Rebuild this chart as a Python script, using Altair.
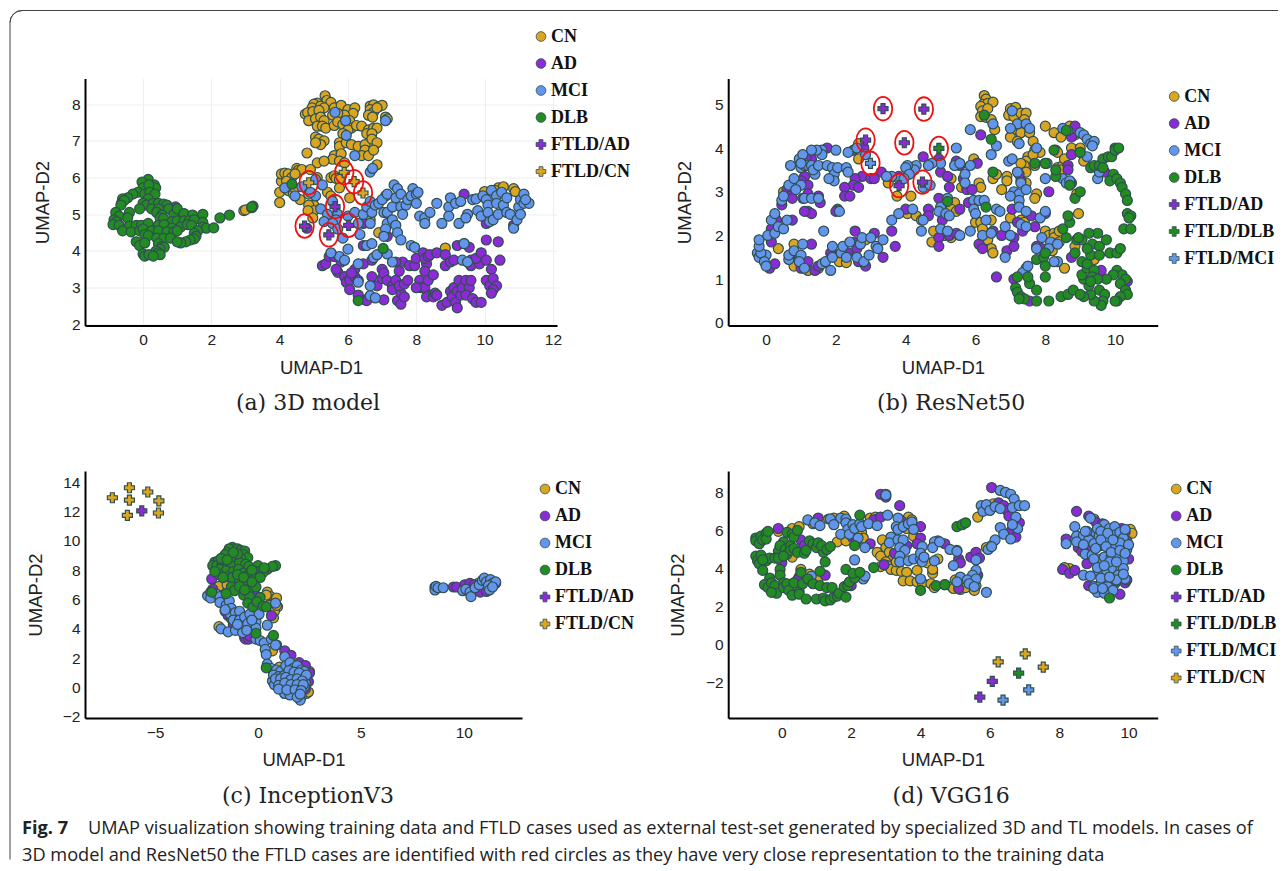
import altair as alt
import pandas as pd

GROUPS = ["CN", "AD", "MCI", "DLB", "FTLD/AD", "FTLD/DLB", "FTLD/MCI", "FTLD/CN"]
COLORS = {"CN": "#DAA520", "AD": "#8A2BD6", "MCI": "#6495ED", "DLB": "#228B22",
          "FTLD/AD": "#8A2BD6", "FTLD/DLB": "#228B22", "FTLD/MCI": "#6495ED", "FTLD/CN": "#DAA520"}
SHAPES = {"CN": "circle", "AD": "circle", "MCI": "circle", "DLB": "circle",
          "FTLD/AD": "cross", "FTLD/DLB": "cross", "FTLD/MCI": "cross", "FTLD/CN": "cross"}

# ---------- panel a: 3D model
a_cn = [(5.33,8.23),(5.38,8.1),(5.5,8.05),(5.1,8.03),(5.0,8.0),(4.95,7.9),(5.2,7.95),(5.3,7.9),(5.6,7.9),(5.8,7.97),(6.0,7.85),(6.2,7.9),(6.15,7.75),(5.9,7.7),(5.7,7.75),(5.55,7.7),(4.75,7.73),(4.82,7.77),(4.97,7.8),(5.15,7.83),(4.85,7.55),(5.05,7.6),(5.2,7.65),(5.3,7.55),(5.1,7.4),(5.25,7.4),(5.35,7.35),(5.6,7.42),(5.7,7.52),(5.85,7.45),(6.05,7.55),(6.1,7.35),(6.0,7.3),(6.25,7.42),(6.4,7.4),(5.85,7.2),(6.65,7.95),(6.75,7.98),(6.9,7.93),(7.0,7.97),(6.65,7.85),(6.75,7.78),(6.85,7.9),(6.6,7.7),(6.72,7.65),(7.1,7.65),(7.15,7.6),(6.6,7.3),(6.75,7.35),(6.85,7.35),(6.55,7.2),(6.7,7.2),(5.05,7.1),(5.15,7.05),(5.3,7.0),(5.2,6.9),(5.05,6.95),(5.75,6.95),(5.75,6.85),(5.95,6.95),(6.1,6.9),(6.3,6.85),(6.5,6.9),(6.7,7.05),(6.85,6.95),(6.5,6.75),(6.4,6.6),(6.6,6.6),(6.75,6.75),(5.6,6.6),(5.8,6.65),(5.55,6.5),(5.75,6.45),(4.8,6.67),(5.1,6.4),(5.3,6.45),(5.9,6.4),(6.85,6.35),(4.0,5.32),(4.0,5.6),(4.05,5.9),(4.05,6.1),(4.15,6.12),(4.25,6.1),(4.35,6.0),(4.2,5.9),(4.25,5.65),(4.4,5.55),(4.45,5.7),(4.5,6.25),(4.55,6.2),(4.65,6.22),(4.45,6.1),(4.6,5.4),(4.85,5.55),(4.9,6.22),(5.1,6.0),(5.5,6.0),(5.6,6.05),(5.65,5.98),(5.75,5.95),(5.75,5.72),(5.4,5.6),(5.5,5.5),(6.05,5.45),(2.95,5.1),(3.0,5.12),(3.18,5.18),(5.0,5.25),(4.85,5.25),(5.0,5.1),(4.83,5.1),(4.97,4.9),(6.65,4.85),(6.9,4.5),(7.1,5.5),(10.0,5.62),(10.4,5.72),(10.55,5.75),(10.85,5.7),(10.9,5.62),(10.3,5.65),(8.85,4.08)]
a_ad = [(0.95,5.2),(5.25,3.6),(5.35,3.65),(5.7,3.42),(5.45,3.85),(5.6,3.85),(5.8,3.7),(5.9,3.3),(5.95,3.15),(6.05,3.2),(6.2,3.5),(6.2,3.3),(6.3,3.2),(6.05,2.95),(6.3,2.8),(6.5,2.67),(6.55,2.65),(6.45,3.65),(6.7,3.75),(6.7,3.3),(6.85,3.05),(7.0,3.5),(7.0,3.25),(7.05,3.4),(7.15,3.2),(7.3,3.05),(7.05,2.67),(7.3,2.95),(7.45,2.65),(7.55,2.55),(7.55,2.85),(7.65,2.75),(7.4,3.2),(7.5,3.05),(7.65,3.1),(7.75,3.2),(7.5,3.45),(7.6,3.7),(7.4,3.7),(7.8,3.6),(7.95,3.6),(8.0,3.8),(8.2,3.95),(8.3,3.65),(8.25,3.8),(8.35,3.85),(8.4,3.9),(8.25,3.45),(8.1,3.2),(8.15,3.0),(8.25,3.0),(8.35,3.2),(8.5,3.35),(8.4,2.8),(8.3,2.75),(8.5,2.75),(8.55,2.85),(8.6,3.95),(8.6,2.8),(8.75,2.52),(8.9,2.6),(8.85,3.6),(8.85,3.9),(9.0,3.7),(9.1,3.75),(9.0,2.9),(9.05,2.75),(9.1,3.0),(9.15,2.6),(9.2,2.9),(9.2,2.45),(9.3,2.8),(9.25,3.2),(9.35,3.0),(9.45,3.2),(9.55,3.0),(9.6,3.2),(9.45,2.8),(9.65,2.7),(9.75,2.6),(9.9,2.6),(9.2,4.15),(9.55,4.1),(9.4,4.2),(9.6,3.75),(9.6,3.6),(9.85,3.65),(9.75,3.8),(9.9,3.95),(10.05,3.75),(10.05,3.2),(10.15,3.05),(10.2,3.5),(10.25,3.25),(10.35,3.05),(10.25,2.95),(10.2,2.85),(10.45,3.75),(10.05,4.3),(10.4,4.25),(9.4,5.55),(10.05,4.75),(10.85,4.7),(6.45,4.15),(6.45,4.75),(7.15,4.4),(4.8,4.62),(5.65,3.5),(8.0,3.0),(6.1,3.4)]
a_mci = [(5.62,7.78),(5.93,7.55),(5.95,7.15),(6.2,6.6),(7.1,7.55),(6.65,6.15),(6.72,6.25),(4.15,5.72),(4.45,5.5),(4.65,5.75),(5.05,5.95),(5.25,5.8),(5.2,5.15),(5.4,5.0),(5.55,5.35),(5.7,5.0),(5.65,4.85),(5.3,4.8),(5.55,4.75),(5.7,4.6),(5.85,4.35),(6.0,4.95),(6.2,5.05),(6.3,4.75),(6.35,4.45),(6.45,5.0),(6.55,5.2),(6.65,5.35),(6.7,5.05),(6.8,5.25),(6.9,5.3),(6.65,4.75),(7.05,5.05),(7.15,5.05),(7.0,5.4),(7.15,5.55),(7.15,4.75),(7.1,4.6),(7.3,4.85),(7.35,5.8),(7.3,5.2),(7.4,5.45),(7.45,5.7),(7.55,5.55),(7.55,5.2),(7.6,5.0),(7.7,5.25),(7.75,5.4),(7.9,5.7),(7.85,5.5),(8.0,5.55),(8.0,5.3),(8.05,5.6),(7.4,4.7),(7.45,4.5),(7.55,4.3),(7.85,4.15),(7.95,4.1),(8.1,4.95),(8.25,4.9),(8.25,4.75),(8.4,5.05),(8.6,5.3),(8.75,4.75),(8.95,5.2),(8.95,4.95),(9.0,5.45),(9.15,5.3),(9.25,4.75),(9.3,5.35),(9.5,5.0),(9.45,4.9),(9.65,5.4),(9.75,5.42),(9.8,5.1),(9.9,4.95),(9.95,5.5),(10.05,5.4),(10.1,5.25),(10.1,5.05),(10.15,4.8),(10.25,4.85),(10.2,5.65),(10.35,5.5),(10.35,5.3),(10.4,5.0),(10.5,5.6),(10.55,5.25),(10.65,5.45),(10.65,5.05),(10.75,5.0),(10.85,4.62),(10.95,4.85),(11.0,5.2),(11.05,5.4),(11.05,5.0),(11.15,5.55),(11.15,5.3),(11.3,5.3),(11.2,5.4),(6.0,4.05),(5.75,3.85),(5.9,3.75),(6.3,3.65),(6.55,4.15),(6.7,4.2),(6.75,3.82),(6.85,3.9),(7.15,3.92),(7.3,3.7),(9.35,3.75),(9.5,3.7),(9.4,4.2),(6.3,3.15),(6.65,3.05),(6.65,2.78),(6.8,2.72),(5.05,5.5),(4.9,5.6),(5.5,3.95),(7.05,4.4)]
a_dlb = [(0.15,5.95),(-0.03,5.88),(0.0,5.72),(0.33,5.8),(0.37,5.72),(0.17,5.8),(-0.15,5.6),(-0.3,5.55),(0.05,5.55),(0.2,5.6),(0.35,5.55),(-0.45,5.45),(-0.6,5.42),(-0.63,5.3),(-0.55,5.38),(0.15,5.42),(0.0,5.3),(0.1,5.25),(0.3,5.3),(0.45,5.3),(0.6,5.28),(0.7,5.25),(-0.65,5.25),(-0.1,5.15),(0.25,5.15),(0.45,5.15),(0.75,5.15),(-0.8,5.05),(-0.7,4.95),(-0.4,5.05),(0.4,5.05),(0.55,4.98),(0.9,5.0),(1.0,5.15),(1.2,5.02),(1.45,4.98),(1.75,5.0),(-0.85,4.85),(-0.78,4.8),(-0.45,4.9),(0.5,4.9),(0.6,4.88),(0.85,4.8),(1.0,4.82),(1.2,4.82),(1.35,4.82),(1.5,4.85),(1.75,4.78),(-0.88,4.72),(-0.7,4.7),(-0.4,4.68),(-0.2,4.7),(-0.05,4.7),(0.15,4.75),(0.45,4.7),(0.62,4.72),(0.85,4.62),(1.1,4.65),(1.3,4.72),(1.42,4.7),(1.75,4.65),(1.85,4.62),(2.07,4.63),(-0.6,4.55),(-0.35,4.52),(-0.1,4.55),(0.0,4.6),(0.25,4.55),(0.45,4.55),(0.7,4.52),(0.9,4.52),(1.0,4.55),(1.6,4.55),(1.5,4.48),(-0.2,4.25),(0.05,4.45),(0.15,4.42),(0.4,4.35),(0.6,4.35),(0.8,4.35),(1.55,4.4),(1.5,4.33),(1.38,4.3),(1.25,4.25),(1.1,4.22),(1.0,4.25),(-0.1,4.15),(0.05,4.22),(0.45,4.2),(0.55,4.12),(0.62,4.1),(0.5,4.05),(0.38,4.0),(0.45,3.95),(0.5,3.9),(0.0,3.92),(0.05,3.86),(0.17,3.9),(0.3,3.86),(2.25,4.9),(2.53,4.98),(3.22,5.22),(3.18,5.2),(4.36,5.82),(7.03,4.07),(6.3,2.65)]
a_ftld_ad = [(4.73,4.68),(5.44,4.44),(5.62,5.21),(6.02,4.70)]
a_ftld_cn = [(4.85,5.86),(5.89,6.14),(6.18,5.89),(6.44,5.58)]

# ---------- panel b: ResNet50
b_cn = [(6.25,5.2),(6.3,5.12),(6.22,5.0),(6.35,5.02),(6.5,5.05),(6.15,4.95),(6.2,4.85),(6.35,4.9),(6.15,4.72),(6.3,4.7),(6.45,4.65),(6.55,4.42),(7.0,4.9),(7.15,4.93),(6.95,4.75),(7.1,4.72),(7.3,4.8),(7.45,4.8),(7.4,4.65),(7.05,4.4),(7.0,4.25),(7.3,4.35),(7.2,4.15),(7.55,4.35),(8.0,4.5),(8.25,4.35),(8.45,4.25),(8.7,4.5),(8.85,4.3),(8.75,4.0),(9.0,4.0),(8.3,3.95),(8.35,3.9),(7.65,4.15),(7.7,3.95),(7.85,3.9),(7.5,3.8),(7.45,3.7),(7.4,3.6),(7.3,3.65),(7.7,3.6),(7.65,3.85),(8.0,3.65),(8.35,3.55),(8.5,3.6),(8.55,3.75),(8.45,3.5),(7.45,3.45),(6.9,3.35),(7.45,3.2),(6.9,3.25),(6.75,3.05),(6.5,3.3),(6.6,3.4),(5.95,3.75),(6.1,3.2),(6.15,3.1),(5.3,3.3),(5.6,3.1),(7.75,2.95),(7.7,2.85),(8.9,2.95),(9.1,3.7),(7.0,2.4),(7.3,2.35),(7.4,2.3),(5.4,2.75),(5.3,2.6),(5.45,2.55),(6.0,2.3),(6.15,2.3),(6.45,2.35),(5.0,2.1),(5.1,2.0),(5.05,2.05),(6.2,2.15),(6.2,1.85),(6.35,1.9),(6.45,1.7),(6.5,1.6),(8.0,2.1),(8.1,2.0),(8.25,2.05),(8.25,1.95),(8.4,2.1),(8.4,1.85),(8.2,1.65),(8.85,1.75),(8.95,2.5),(8.55,1.25),(9.4,1.45),(4.75,1.85),(4.8,2.1),(0.35,1.7),(0.8,1.8),(0.8,1.3),(1.2,1.2),(1.5,1.25),(2.05,1.55),(2.2,1.5),(2.1,1.4),(2.3,1.38),(2.65,4.1),(2.65,3.75),(0.5,3.0),(4.05,2.5),(3.75,2.9),(4.15,2.9),(4.3,2.45),(4.45,2.35),(3.5,3.2),(2.85,1.9),(5.3,1.95)]
b_ad = [(3.3,3.45),(3.8,3.35),(2.75,3.35),(3.0,3.3),(3.1,3.3),(2.55,3.3),(2.5,3.15),(2.65,3.1),(2.25,3.1),(2.25,2.9),(2.4,2.9),(2.05,2.6),(2.0,2.55),(2.8,4.0),(2.5,3.95),(1.75,4.0),(1.3,3.75),(1.15,3.8),(0.6,3.05),(0.7,2.9),(0.45,2.7),(1.1,3.35),(1.0,3.25),(1.2,3.15),(1.2,2.95),(1.5,2.9),(1.55,2.75),(1.2,2.55),(1.3,2.5),(1.1,2.55),(1.05,2.85),(0.75,2.85),(0.75,2.35),(0.3,2.35),(0.15,2.15),(0.15,1.85),(0.1,1.25),(0.25,1.35),(1.3,1.8),(0.95,1.5),(1.2,1.4),(1.4,1.2),(1.5,1.3),(1.0,1.25),(1.85,1.6),(2.55,1.85),(2.35,1.6),(2.6,1.7),(2.65,1.4),(2.85,1.3),(2.55,2.1),(3.1,2.05),(3.6,2.1),(3.7,1.75),(3.35,1.5),(4.0,2.6),(4.65,2.6),(4.65,2.45),(4.5,3.8),(4.95,3.75),(5.0,3.45),(5.2,3.35),(5.25,3.1),(4.95,2.85),(5.45,3.7),(5.55,3.6),(5.65,3.3),(5.75,3.05),(5.9,3.05),(6.05,3.65),(6.15,4.3),(5.8,2.75),(5.55,2.6),(5.05,2.35),(4.95,1.95),(4.95,1.75),(5.25,2.0),(5.45,2.05),(6.1,1.8),(6.2,1.7),(6.5,2.1),(6.75,2.0),(6.9,1.65),(7.1,1.95),(7.1,1.75),(7.05,2.6),(7.2,2.3),(7.35,2.1),(7.6,2.45),(7.7,2.2),(7.75,1.75),(7.9,1.7),(8.0,2.5),(7.3,3.25),(7.25,3.4),(8.1,3.0),(8.75,3.85),(8.65,3.6),(8.65,3.5),(8.85,4.5),(8.75,4.25),(9.55,3.6),(9.7,3.45),(10.35,0.95),(9.6,1.2),(8.75,1.5),(6.6,1.05),(7.1,1.0),(7.55,0.5),(8.75,3.2)]
b_mci = [(5.85,4.42),(5.45,4.0),(7.05,4.85),(7.2,4.55),(7.0,4.45),(7.25,4.1),(7.45,4.55),(7.55,4.45),(6.5,4.55),(6.6,4.05),(6.45,3.85),(6.95,3.7),(7.05,3.75),(7.75,4.0),(8.05,3.65),(8.5,4.45),(8.65,4.4),(9.0,4.35),(9.1,4.3),(9.2,4.2),(9.3,4.1),(9.4,4.15),(9.35,4.05),(9.0,3.9),(9.2,3.8),(9.5,3.3),(9.55,3.45),(8.0,3.3),(8.5,3.3),(8.6,3.2),(8.7,3.25),(7.2,3.45),(7.3,3.2),(7.1,3.0),(7.25,2.95),(7.45,3.05),(7.0,2.9),(7.25,2.8),(7.25,2.65),(5.7,3.4),(5.85,3.6),(5.7,3.2),(5.4,3.6),(5.55,3.65),(5.0,3.65),(4.75,3.65),(4.65,3.6),(4.3,3.6),(4.25,3.5),(4.05,3.6),(4.0,3.55),(4.1,3.4),(3.8,3.3),(3.6,3.35),(3.45,3.35),(3.95,3.3),(4.5,3.1),(4.7,3.15),(5.2,2.85),(5.0,2.65),(4.95,2.55),(5.15,2.5),(5.25,2.45),(5.95,2.8),(6.1,2.8),(6.25,2.8),(5.95,2.6),(6.0,2.5),(6.3,2.35),(6.6,2.6),(6.7,2.55),(5.85,2.1),(6.2,2.0),(6.45,2.05),(6.85,2.2),(7.0,2.0),(7.3,2.25),(7.45,2.2),(7.45,2.55),(7.85,2.4),(8.0,2.55),(7.9,1.95),(8.15,1.85),(8.1,1.7),(8.35,1.8),(8.35,1.4),(7.45,1.25),(7.35,1.15),(7.5,1.3),(8.25,1.4),(7.75,1.7),(6.85,1.5),(0.0,1.55),(-0.25,1.6),(-0.2,1.5),(-0.15,1.6),(-0.2,1.75),(-0.2,1.9),(-0.05,1.4),(0.0,1.3),(0.05,2.0),(0.25,2.05),(0.15,2.35),(0.25,2.5),(0.35,2.2),(0.5,2.15),(0.6,2.35),(0.45,2.8),(0.5,2.9),(0.65,3.15),(0.8,3.3),(0.7,3.6),(0.95,3.75),(1.0,3.55),(1.0,3.15),(0.85,3.05),(1.1,2.85),(1.3,2.85),(1.4,3.4),(1.1,3.6),(1.2,3.6),(1.3,3.6),(1.35,3.5),(1.5,3.6),(1.75,3.6),(1.9,3.55),(1.95,3.4),(1.95,3.25),(1.8,3.3),(2.05,3.55),(2.3,3.55),(2.35,3.45),(2.35,3.9),(2.0,3.95),(1.6,3.95),(1.6,3.85),(1.45,3.95),(1.3,3.95),(1.05,3.85),(1.0,3.65),(2.6,4.0),(2.85,3.85),(0.65,1.45),(0.65,1.55),(0.8,1.65),(1.0,1.55),(0.95,1.4),(1.1,1.25),(1.05,1.8),(1.6,1.35),(1.7,1.4),(1.85,1.2),(1.9,1.5),(1.9,1.75),(2.15,1.6),(2.2,1.75),(2.3,1.5),(2.6,1.5),(2.7,1.8),(2.8,1.4),(2.95,1.55),(2.75,1.95),(3.0,1.95),(3.15,1.75),(3.2,1.7),(3.35,1.9),(1.65,2.1),(2.1,2.55),(3.6,2.35),(3.8,2.5),(4.2,2.6),(4.5,2.35),(4.45,2.1),(5.0,2.15),(5.2,2.1),(5.55,2.0),(1.5,2.85),(2.4,1.85)]
b_dlb = [(6.25,4.75),(6.45,4.2),(6.5,3.45),(6.3,2.65),(5.2,2.78),(7.55,0.9),(7.5,1.05),(7.2,1.05),(7.15,0.8),(7.2,0.7),(7.3,0.6),(7.4,0.55),(7.25,0.55),(7.75,0.75),(7.75,0.5),(8.1,0.5),(8.45,0.6),(8.65,0.65),(8.8,0.75),(8.0,1.05),(7.75,1.45),(7.95,1.5),(8.0,1.6),(8.0,1.3),(8.6,1.95),(8.5,2.15),(8.7,2.3),(8.65,2.45),(8.9,1.9),(8.85,2.85),(9.0,3.0),(8.7,3.15),(8.3,3.35),(8.0,3.65),(8.25,3.95),(8.3,3.5),(7.7,3.65),(8.6,4.4),(9.0,3.9),(9.3,3.55),(9.4,3.6),(9.55,3.6),(9.65,3.75),(9.65,3.55),(9.8,3.8),(9.9,3.8),(10.0,4.0),(10.0,3.95),(10.1,4.0),(9.95,3.4),(9.85,3.25),(10.05,3.3),(10.15,3.2),(10.2,3.1),(10.3,2.95),(10.35,2.8),(10.35,2.5),(10.45,2.45),(10.4,2.4),(10.25,2.15),(10.45,2.15),(9.5,2.05),(9.25,2.05),(9.05,1.9),(9.35,1.8),(9.55,1.75),(9.75,1.9),(9.85,1.6),(10.05,1.6),(10.15,1.7),(10.05,1.2),(10.2,1.1),(10.3,1.0),(10.15,0.9),(10.3,0.75),(10.35,0.65),(10.15,0.6),(10.05,0.5),(10.0,0.5),(9.95,1.1),(9.75,1.0),(9.55,0.75),(9.7,0.65),(9.65,0.5),(9.6,0.4),(9.4,0.5),(9.3,0.65),(9.1,0.6),(9.0,0.65),(9.25,0.85),(9.1,1.0),(9.05,1.1),(9.2,1.25),(9.05,1.4),(9.2,1.35),(9.3,1.55),(9.4,1.2),(9.2,1.7),(8.85,1.6),(9.55,1.55),(9.35,1.05),(9.5,1.0),(8.95,1.95),(9.3,0.95)]
b_ftld_ad = [(3.35,4.9),(4.52,4.89),(2.85,4.18),(3.96,4.12),(3.81,3.14),(4.48,3.22)]
b_ftld_dlb = [(4.95,3.99)]
b_ftld_mci = [(2.99,3.65)]

# ---------- panel c: InceptionV3
c_cn = [(-1.75,6.95),(-1.9,6.9),(-1.5,7.0),(-0.9,7.4),(0.45,6.5),(0.6,6.2),(0.8,6.0),(0.95,5.5),(0.75,5.7),(0.55,5.6),(0.8,5.2),(0.75,4.75),(0.9,5.6),(-1.9,4.15),(0.7,2.5),(2.5,1.1),(1.05,1.4),(2.35,-0.4),(2.45,-0.3),(10.5,6.9),(10.7,7.1),(11.0,7.2),(0.4,6.3),(0.9,6.1)]
c_ad = [(-2.25,7.4),(-2.2,6.7),(-1.65,6.2),(-1.5,5.8),(-1.6,5.2),(-1.45,4.9),(-1.3,4.7),(-1.2,4.3),(-0.65,3.4),(-0.6,3.3),(-0.45,3.3),(-0.4,3.5),(0.9,2.9),(1.3,2.5),(1.6,2.2),(2.0,1.7),(2.3,1.5),(2.5,1.0),(2.45,0.4),(2.3,-0.1),(1.7,-0.2),(1.3,-0.4),(0.65,4.9),(9.5,6.85),(9.65,6.85),(10.05,7.0),(10.3,7.1),(10.5,7.0),(10.8,6.5),(11.1,6.55),(8.6,6.85),(11.55,7.1),(-0.2,6.5)]
c_mci = [(-2.45,6.25),(-2.3,6.5),(-2.3,6.1),(-2.0,6.35),(-1.85,6.2),(-1.85,5.8),(-1.55,5.6),(-1.4,5.9),(-1.3,5.4),(-1.35,5.0),(-1.1,5.1),(-1.2,4.6),(-0.9,5.2),(-0.9,4.6),(-0.65,4.8),(-0.5,4.35),(-0.4,5.0),(-0.1,4.5),(-0.1,4.05),(0.05,5.0),(0.45,4.25),(-1.8,4.0),(-1.45,3.8),(-1.1,3.9),(-0.75,3.75),(-0.55,3.9),(-0.1,3.3),(0.1,3.2),(0.3,3.05),(0.65,3.3),(0.85,2.9),(0.35,2.6),(0.4,2.25),(1.3,2.1),(0.45,1.6),(0.65,1.3),(0.9,1.2),(1.1,1.1),(1.35,1.5),(1.55,1.7),(1.7,1.3),(1.9,1.5),(2.1,1.2),(2.25,1.1),(1.4,0.95),(1.6,0.8),(1.85,0.85),(2.05,0.7),(2.25,0.6),(0.7,0.45),(0.95,0.4),(1.2,0.5),(1.5,0.4),(1.75,0.5),(2.0,0.35),(2.3,0.3),(0.8,0.2),(1.2,0.1),(1.45,0.05),(1.75,0.0),(2.05,0.1),(2.25,0.05),(1.3,-0.4),(1.7,-0.35),(1.95,-0.4),(2.1,-0.6),(2.05,-0.85),(1.55,-0.5),(8.6,6.65),(8.65,6.9),(8.75,6.8),(9.0,6.8),(9.95,6.6),(10.1,6.7),(10.3,6.5),(10.35,6.2),(10.55,6.8),(10.75,7.0),(10.9,7.3),(11.0,7.45),(11.1,7.2),(11.3,7.35),(11.4,7.1),(11.55,7.2),(11.2,6.95),(11.25,6.65),(11.4,6.85),(0.85,5.75),(0.75,0.85),(1.0,0.75),(1.25,0.8),(1.5,1.15),(1.75,1.05),(2.0,1.0),(2.35,0.85),(0.85,0.6),(1.1,0.6),(1.35,0.7),(1.6,0.55),(1.9,0.6),(2.15,0.45),(1.0,0.15),(1.3,0.3),(1.6,0.2),(1.9,0.2),(2.2,0.2),(1.0,-0.1),(1.4,-0.15),(1.8,-0.15),(2.1,-0.2),(1.9,-0.65),(2.05,-0.45),(-1.6,5.3),(-1.0,4.3),(-0.3,4.6)]
c_dlb = [(-1.25,9.55),(-1.4,9.45),(-1.0,9.45),(-0.85,9.35),(-0.65,9.3),(-1.5,9.2),(-1.6,9.05),(-0.7,9.05),(-0.5,8.85),(-1.3,8.85),(-1.1,8.7),(-0.85,8.8),(-2.1,8.55),(-1.95,8.6),(-2.2,8.3),(-2.0,8.3),(-1.75,8.5),(-1.7,8.25),(-1.45,8.35),(-1.25,8.25),(-0.9,8.5),(-0.6,8.4),(-0.45,8.25),(0.0,8.3),(0.45,8.05),(0.85,8.3),(0.7,8.25),(-1.85,8.05),(-1.55,7.95),(-1.2,7.9),(-0.95,8.05),(-0.7,7.8),(-0.4,7.8),(-0.1,7.9),(0.25,7.85),(-1.5,7.55),(-1.25,7.5),(-0.9,7.3),(-0.5,7.6),(-0.15,7.45),(0.1,7.5),(-1.3,6.85),(-1.15,6.6),(-0.7,7.05),(-0.4,6.75),(-0.1,6.85),(-1.55,6.4),(-2.25,6.5),(-0.7,6.3),(-0.4,6.2),(0.1,6.15),(-0.5,5.75),(-0.25,5.5),(-0.05,5.85),(0.25,5.55),(0.4,5.5),(-0.1,3.7),(0.75,3.55),(0.4,1.35),(-1.0,9.1),(-1.2,9.2),(-1.8,8.8),(-1.5,8.7),(-0.3,8.0),(-1.0,7.7),(-0.7,7.5),(-0.3,7.2),(-0.9,6.9),(-0.65,6.65),(-1.9,7.7),(-1.7,7.5),(-2.1,7.9),(0.3,8.15)]
c_ftld_ad = [(-5.65,12.03)]
c_ftld_cn = [(-7.08,12.93),(-6.25,13.61),(-6.25,12.77),(-5.36,13.32),(-4.82,12.71),(-6.35,11.73),(-4.84,11.89)]

# ---------- panel d: VGG16
d_cn = [(0.3,6.1),(0.5,6.2),(0.9,6.35),(1.35,6.6),(1.5,6.65),(1.8,6.75),(1.85,6.55),(2.55,6.65),(2.7,6.7),(2.75,6.6),(3.65,6.7),(3.75,6.55),(3.6,6.1),(3.8,5.7),(1.6,5.4),(1.85,5.45),(2.3,5.9),(2.35,5.6),(2.9,5.5),(3.0,5.1),(2.75,4.85),(2.85,4.65),(3.1,4.85),(3.2,4.5),(3.0,4.35),(3.05,4.15),(2.85,4.1),(3.15,3.95),(3.3,3.9),(3.45,3.85),(3.6,3.8),(3.9,3.9),(4.2,4.3),(3.5,3.35),(3.7,3.35),(3.9,3.3),(4.05,3.25),(4.3,3.2),(4.4,3.0),(4.35,3.75),(4.35,3.95),(4.7,3.15),(4.9,3.05),(4.95,2.95),(5.15,2.9),(5.1,3.3),(5.0,3.4),(5.3,3.0),(5.6,3.1),(5.55,2.85),(4.5,4.5),(5.65,6.7),(6.1,7.4),(6.05,5.2),(5.9,5.1),(0.55,3.95),(0.8,3.7),(1.05,3.5),(0.3,4.6),(10.05,6.05),(10.1,5.85),(8.3,4.0),(8.15,4.05),(9.0,6.6),(3.3,4.35),(-0.1,5.95)]
d_ad = [(0.0,4.3),(-0.1,6.1),(0.55,5.5),(0.65,5.2),(1.05,6.65),(2.05,5.6),(2.15,5.45),(2.55,5.3),(2.65,6.55),(2.85,6.7),(2.85,7.9),(3.0,7.75),(3.4,7.3),(3.45,6.5),(3.75,6.25),(4.0,6.2),(4.0,5.6),(3.6,5.2),(3.9,5.3),(4.5,5.45),(4.7,5.3),(5.05,4.95),(5.1,4.5),(5.15,4.3),(5.45,4.6),(5.6,4.85),(5.7,4.55),(5.65,3.65),(5.55,3.3),(5.1,2.95),(1.25,3.65),(0.5,3.55),(0.45,3.4),(2.0,3.1),(2.95,4.2),(3.25,4.8),(6.05,8.25),(6.25,7.45),(6.4,7.3),(6.5,7.05),(6.55,6.75),(6.75,6.5),(6.85,6.4),(6.6,5.95),(6.75,5.65),(8.5,7.0),(8.85,6.75),(9.05,6.45),(9.25,6.35),(8.2,5.55),(8.55,5.1),(8.65,4.9),(8.85,4.95),(8.8,4.25),(8.1,3.95),(8.3,3.75),(8.45,3.9),(8.85,3.1),(9.05,3.05),(9.5,2.9),(9.6,3.2),(9.75,2.65),(9.9,3.25),(9.95,3.4),(9.95,5.45),(9.9,5.9),(10.0,4.5),(9.8,6.1)]
d_mci = [(0.75,6.55),(0.95,6.4),(1.1,6.25),(1.4,6.6),(1.7,6.65),(1.5,6.3),(1.85,6.6),(1.85,6.4),(1.9,6.05),(1.7,5.8),(1.95,5.8),(2.05,6.3),(2.1,6.1),(2.25,6.35),(2.3,6.2),(2.2,5.6),(2.4,5.1),(2.1,4.45),(2.35,3.45),(2.4,3.6),(2.5,6.35),(2.75,6.25),(3.05,6.8),(3.0,7.9),(3.0,7.85),(3.35,6.65),(3.3,6.2),(3.35,6.05),(3.5,6.2),(3.65,6.35),(3.75,6.45),(3.8,6.05),(3.15,5.65),(3.1,5.35),(3.35,5.5),(3.5,5.5),(3.4,5.1),(3.55,4.95),(3.4,4.65),(3.4,4.35),(3.65,4.4),(3.8,4.5),(4.0,4.5),(4.05,4.35),(4.05,5.15),(4.0,4.8),(4.1,4.6),(4.4,5.4),(4.35,5.1),(4.55,5.4),(4.4,4.4),(4.85,5.0),(5.05,4.9),(4.95,4.15),(5.15,3.55),(5.05,3.3),(4.0,3.45),(5.6,3.9),(5.5,3.65),(5.35,3.4),(5.6,3.45),(5.4,3.2),(5.55,3.05),(5.6,4.45),(5.9,2.75),(5.75,7.3),(5.8,7.0),(5.9,7.35),(6.0,7.05),(6.15,7.25),(6.3,7.15),(6.3,8.1),(6.45,8.0),(6.6,7.9),(6.7,7.65),(6.65,7.2),(6.85,7.3),(7.0,7.3),(6.75,6.7),(6.8,6.1),(6.65,6.3),(6.3,6.15),(6.4,5.8),(6.15,5.5),(6.6,5.55),(5.95,5.0),(6.05,5.15),(8.2,5.3),(8.45,6.2),(8.5,5.7),(8.7,5.75),(8.5,5.4),(8.9,6.65),(9.05,5.9),(9.15,5.7),(8.85,5.5),(8.7,5.25),(9.0,5.3),(9.2,5.2),(9.3,6.3),(9.45,6.1),(9.6,6.2),(9.6,5.75),(9.75,5.9),(9.85,5.6),(9.4,5.5),(9.6,5.1),(9.75,5.35),(9.95,5.0),(10.0,5.25),(8.75,4.75),(8.95,4.7),(9.1,4.35),(9.2,4.5),(9.3,4.6),(9.5,4.65),(9.7,4.55),(9.85,4.4),(9.6,4.1),(9.85,4.0),(9.5,4.0),(9.3,3.8),(9.1,3.75),(8.7,3.65),(8.9,3.6),(9.7,3.65),(9.9,3.45),(9.3,3.4),(9.5,3.3),(9.65,3.4),(9.0,3.05),(9.2,3.15),(9.4,3.05),(9.55,2.85),(9.1,2.75),(9.3,2.7),(9.0,2.95),(0.85,3.6),(8.8,5.95),(9.1,6.1),(9.2,5.95),(9.4,5.85),(9.55,5.5),(9.2,5.5),(9.05,5.05),(9.35,5.15),(9.5,4.85),(9.75,4.95),(9.9,4.8),(9.0,4.5),(9.45,4.35),(9.65,4.35),(9.1,4.05),(9.3,4.15),(9.2,3.5),(9.85,3.7),(9.45,3.55),(9.25,2.95),(8.75,5.95),(9.9,6.05)]
d_dlb = [(-0.75,5.6),(-0.75,5.45),(-0.65,5.3),(-0.6,5.7),(-0.55,5.5),(-0.45,5.85),(-0.45,5.55),(-0.4,5.95),(-0.05,5.1),(-0.1,4.9),(0.05,5.4),(-0.05,5.2),(0.1,5.0),(0.15,4.75),(0.25,5.2),(0.25,4.95),(0.15,5.9),(0.3,5.8),(0.35,5.65),(0.45,6.0),(0.35,5.05),(0.45,4.85),(0.65,4.8),(0.7,4.95),(0.8,5.45),(0.9,5.3),(1.0,5.1),(1.05,5.35),(1.2,4.85),(1.15,5.2),(1.3,5.0),(1.4,5.15),(-0.75,4.65),(-0.7,4.4),(-0.65,4.25),(-0.6,4.7),(-0.45,4.4),(-0.35,4.55),(-0.2,4.55),(-0.1,4.55),(0.05,4.65),(-0.55,4.45),(-0.55,3.9),(-0.35,3.5),(-0.35,3.15),(-0.5,3.15),(-0.4,3.0),(-0.3,3.25),(-0.2,3.1),(-0.15,2.7),(-0.3,2.75),(-0.05,3.95),(-0.05,3.65),(0.05,3.25),(0.05,3.0),(0.15,3.2),(0.2,2.85),(0.35,3.25),(0.3,2.6),(0.5,2.8),(0.5,2.65),(0.6,3.2),(0.55,3.8),(0.7,2.4),(0.75,3.45),(0.9,3.2),(1.0,2.4),(1.1,3.1),(1.1,3.85),(1.2,2.45),(1.25,4.35),(1.3,3.0),(1.25,2.3),(1.4,2.35),(1.45,3.0),(1.5,2.5),(1.6,2.55),(1.65,2.7),(1.8,3.05),(1.9,3.1),(1.85,2.5),(1.85,3.95),(1.95,3.3),(2.1,3.5),(2.05,3.75),(2.25,3.8),(2.1,5.2),(2.25,6.8),(2.65,4.05),(4.0,2.85),(4.45,3.1),(4.7,3.15),(5.05,6.2),(5.2,6.3),(5.3,6.4),(9.45,2.45)]
d_ftld_ad = [(6.07,-1.93),(5.71,-2.75)]
d_ftld_dlb = [(6.83,-1.49)]
d_ftld_mci = [(7.12,-2.37),(6.38,-2.91)]
d_ftld_cn = [(7.02,-0.48),(6.24,-0.9),(7.54,-1.18)]


def table(parts):
    rows = []
    for name, pts in parts:
        rows += [{"x": p[0], "y": p[1], "group": name} for p in pts]
    return pd.DataFrame(rows)


STROKE = "#2F4F4F"
ELLIPSE = "M-0.78,0 A0.78,1 0 1,1 0.78,0 A0.78,1 0 1,1 -0.78,0 Z"


def cap(text, x, y, bold=False):
    return alt.Chart(pd.DataFrame({"t": text})).mark_text(
        align="left", baseline="middle", font="Open Sans", fontSize=18.2,
        fontWeight="bold" if bold else "normal", color="#222").encode(
        x=alt.value(x), y=alt.value(y), text="t:N")


def subcap(text, x, y):
    return alt.Chart(pd.DataFrame({"t": [text]})).mark_text(
        align="center", baseline="middle", font="DejaVu Serif", fontSize=22, color="#222").encode(
        x=alt.value(x), y=alt.value(y), text="t:N")


def panel(parts, xd, yd, xticks, yticks, w, caption, legend_xy, y_title_x,
          grid=False, circled=None, extras=None):
    names = [g for g in GROUPS if g in [p[0] for p in parts]]
    df = table(parts)
    enc = dict(
        x=alt.X("x:Q", scale=alt.Scale(domain=xd, nice=False, zero=False),
                axis=alt.Axis(values=xticks, title="UMAP-D1", grid=grid, titlePadding=10, labelPadding=7)),
        y=alt.Y("y:Q", scale=alt.Scale(domain=yd, nice=False, zero=False),
                axis=alt.Axis(values=yticks, title="UMAP-D2", grid=grid, titleX=y_title_x, labelPadding=5)),
        color=alt.Color("group:N", sort=names,
                        scale=alt.Scale(domain=names, range=[COLORS[n] for n in names]),
                        legend=alt.Legend(title=None, orient="none", legendX=legend_xy[0], legendY=legend_xy[1],
                                          labelFont="Liberation Serif", labelFontSize=18, labelFontWeight="bold",
                                          labelColor="#111", symbolSize=95, symbolStrokeColor=STROKE,
                                          symbolStrokeWidth=0.8, rowPadding=9, labelOffset=1, labelLimit=200)),
        shape=alt.Shape("group:N", sort=names,
                        scale=alt.Scale(domain=names, range=[SHAPES[n] for n in names]), legend=None),
    )
    pts = alt.Chart(df).mark_point(filled=True, opacity=1, stroke=STROKE, strokeWidth=1.2, size=100).encode(**enc)
    layers = [pts]
    if circled is not None:
        cdf = pd.DataFrame([{"x": p[0], "y": p[1]} for p in circled])
        layers.append(alt.Chart(cdf).mark_point(shape=ELLIPSE, filled=False, stroke="#EE1111", strokeWidth=1.8,
                                                size=560, opacity=1).encode(x="x:Q", y="y:Q"))
    layers.append(subcap(caption, 223, 324.5))
    if extras:
        layers += extras
    return alt.layer(*layers).properties(width=w, height=247)


one = pd.DataFrame({"a": [0]})
FRAME = "#444444"
frame_top = alt.Chart(one).mark_rule(color=FRAME, strokeWidth=1).encode(
    x=alt.value(-63), x2=alt.value(1193), y=alt.value(-68))
frame_left = alt.Chart(one).mark_rule(color=FRAME, strokeWidth=1).encode(
    x=alt.value(-75), y=alt.value(-56), y2=alt.value(781))
frame_arc = alt.Chart(one).mark_arc(radius=12, radius2=12, theta=4.7124, theta2=6.2832, stroke=FRAME,
                                    strokeWidth=1, fillOpacity=0).encode(x=alt.value(-63), y=alt.value(-56))

caption_bold = ["Fig. 7"]
caption_1 = ["UMAP visualization showing training data and FTLD cases used as external test-set generated by specialized 3D and TL models. In cases of"]
caption_2 = ["3D model and ResNet50 the FTLD cases are identified with red circles as they have very close representation to the training data"]

a = panel([("CN", a_cn), ("AD", a_ad), ("MCI", a_mci), ("DLB", a_dlb), ("FTLD/AD", a_ftld_ad), ("FTLD/CN", a_ftld_cn)],
          [-1.70, 12.12], [1.97, 8.7], list(range(0, 13, 2)), list(range(2, 9)), 472, "(a) 3D model",
          (447, -51), -33, grid=True, circled=a_ftld_ad + a_ftld_cn, extras=[frame_top, frame_left, frame_arc])
b = panel([("CN", b_cn), ("AD", b_ad), ("MCI", b_mci), ("DLB", b_dlb), ("FTLD/AD", b_ftld_ad), ("FTLD/DLB", b_ftld_dlb), ("FTLD/MCI", b_ftld_mci)],
          [-1.086, 11.22], [-0.06, 5.59], list(range(0, 11, 2)), list(range(0, 6)), 429.5, "(b) ResNet50",
          (437, 9), -34, circled=b_ftld_ad + b_ftld_dlb + b_ftld_mci)
c = panel([("CN", c_cn), ("AD", c_ad), ("MCI", c_mci), ("DLB", c_dlb), ("FTLD/AD", c_ftld_ad), ("FTLD/CN", c_ftld_cn)],
          [-8.41, 12.83], [-2.07, 14.75], [-5, 0, 5, 10], list(range(-2, 15, 2)), 437, "(c) InceptionV3",
          (451, 9), -40,
          extras=[cap(caption_bold, -63, 358, True), cap(caption_1, 3, 358), cap(caption_2, -63, 385)])
d = panel([("CN", d_cn), ("AD", d_ad), ("MCI", d_mci), ("DLB", d_dlb), ("FTLD/AD", d_ftld_ad), ("FTLD/DLB", d_ftld_dlb), ("FTLD/MCI", d_ftld_mci), ("FTLD/CN", d_ftld_cn)],
          [-1.546, 10.84], [-3.85, 9.12], list(range(0, 11, 2)), list(range(-2, 9, 2)), 429.5, "(d) VGG16",
          (439, 9), -41)

chart = alt.concat(a, b, c, d, columns=2, spacing={"row": 145.5, "column": 171.2}).properties(
    bounds="flush", padding={"left": 0, "top": 0.5, "right": 0, "bottom": 0}
).resolve_scale(color="independent", shape="independent").configure_view(stroke=None).configure_axis(
    domainColor="#000", domainWidth=2, ticks=False, gridColor="#EEEEEE", gridWidth=1.2,
    labelFont="Liberation Sans", labelFontSize=15.5, labelColor="#222",
    titleFont="Liberation Sans", titleFontSize=18.5, titleFontWeight="normal", titleColor="#222",
    labelFlush=False, labelOverlap=False)

chart.save("out.html", embed_options={"renderer": "svg", "actions": False})
